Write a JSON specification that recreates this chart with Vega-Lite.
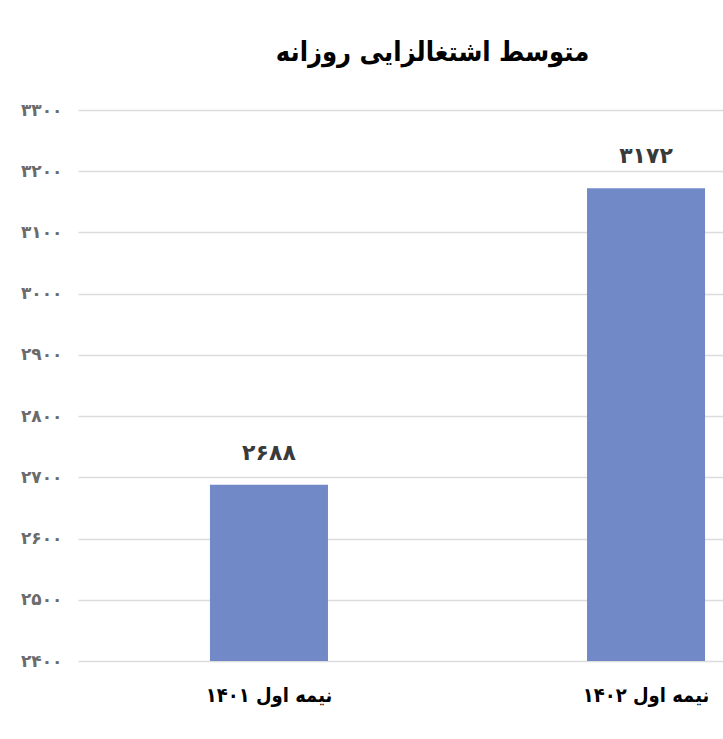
{
  "$schema": "https://vega.github.io/schema/vega-lite/v6.json",
  "autosize": {"type": "none"},
  "width": 759,
  "height": 551,
  "padding": {"left": 78, "top": 110, "right": 0, "bottom": 78},
  "background": "white",
  "title": {
    "text": "متوسط اشتغالزایی روزانه",
    "font": "DejaVu Sans Condensed, DejaVu Sans",
    "fontSize": 27,
    "fontWeight": "bold",
    "color": "#000000",
    "anchor": "middle",
    "frame": "group",
    "dx": -25,
    "offset": 34
  },
  "data": {
    "values": [
      {"period": "نیمه اول ۱۴۰۱", "value": 2688, "label": "۲۶۸۸"},
      {"period": "نیمه اول ۱۴۰۲", "value": 3172, "label": "۳۱۷۲"}
    ]
  },
  "encoding": {
    "x": {
      "field": "period",
      "type": "nominal",
      "sort": null,
      "scale": {"paddingInner": 0.687, "paddingOuter": 0.35},
      "axis": {
        "title": null,
        "labelAngle": 0,
        "labelFont": "DejaVu Sans Condensed, DejaVu Sans",
        "labelFontSize": 20,
        "labelFontWeight": "bold",
        "labelColor": "#000000",
        "labelPadding": 24,
        "ticks": false,
        "domain": false,
        "grid": false
      }
    },
    "y": {
      "field": "value",
      "type": "quantitative",
      "scale": {"domain": [2400, 3300], "nice": false, "zero": false},
      "axis": {
        "title": null,
        "values": [2400, 2500, 2600, 2700, 2800, 2900, 3000, 3100, 3200, 3300],
        "labelExpr": "replace(replace(replace(replace(replace(replace(replace(replace(replace(replace(format(datum.value,'d'),regexp('0','g'),'۰'),regexp('1','g'),'۱'),regexp('2','g'),'۲'),regexp('3','g'),'۳'),regexp('4','g'),'۴'),regexp('5','g'),'۵'),regexp('6','g'),'۶'),regexp('7','g'),'۷'),regexp('8','g'),'۸'),regexp('9','g'),'۹')",
        "labelFont": "DejaVu Sans",
        "labelFontSize": 17,
        "labelFontWeight": "bold",
        "labelColor": "#6b6b6b",
        "labelPadding": 16,
        "ticks": false,
        "domain": false,
        "grid": true,
        "gridColor": "#dcdcdc",
        "gridWidth": 1.5
      }
    }
  },
  "layer": [
    {
      "mark": {"type": "bar", "color": "#7189c6"},
      "encoding": {"y2": {"datum": 2400}}
    },
    {
      "mark": {
        "type": "text",
        "baseline": "bottom",
        "dy": -20,
        "font": "DejaVu Sans",
        "fontSize": 22,
        "fontWeight": "bold",
        "color": "#3a3a3a"
      },
      "encoding": {"text": {"field": "label"}}
    }
  ],
  "config": {"view": {"stroke": null}}
}
